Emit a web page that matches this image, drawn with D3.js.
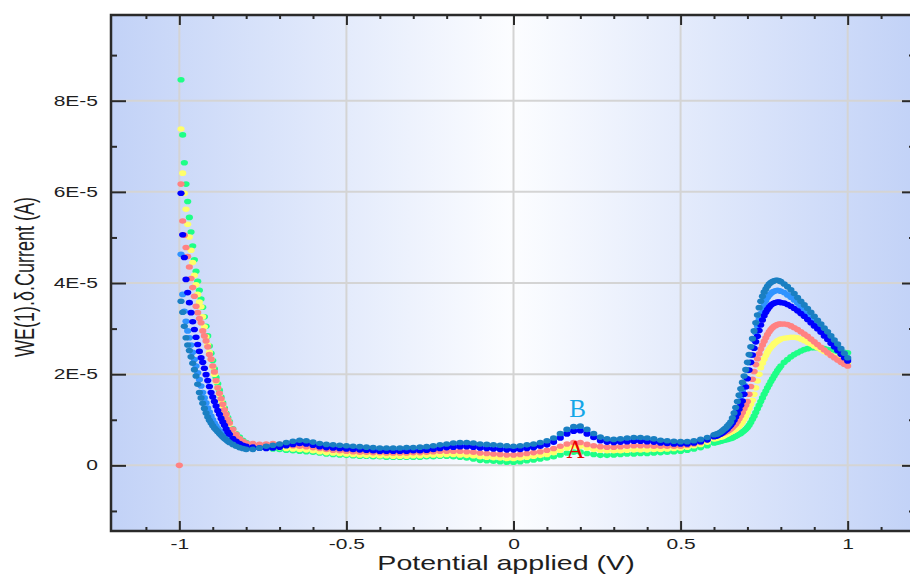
<!DOCTYPE html>
<html>
<head>
<meta charset="utf-8">
<script src="https://cdn.jsdelivr.net/npm/d3@7"></script>
<style>
  body { margin: 0; background: #fff; }
  svg { display: block; font-family: "Liberation Sans", Arial, sans-serif; }
  .tick line { stroke: #2a2a2a; stroke-width: 2; }
  .tick text { fill: #1e1e1e; font-size: 14px; }
</style>
</head>
<body>
<svg width="910" height="576"></svg>
<script>
// potential applied (V) - sampling of the sweep
var potential = [
  -1,
  -0.995, -0.99, -0.985, -0.98, -0.975, -0.97, -0.965, -0.96, -0.955, -0.95,
  -0.945, -0.94, -0.935, -0.93, -0.925, -0.92, -0.915, -0.91, -0.905, -0.9,
  -0.895, -0.89, -0.885, -0.88, -0.875, -0.87, -0.865, -0.86, -0.855, -0.85,
  -0.84, -0.83, -0.82, -0.81, -0.8,
  -0.78, -0.76, -0.74, -0.72, -0.7, -0.68, -0.66, -0.64, -0.62, -0.6,
  -0.58, -0.56, -0.54, -0.52, -0.5, -0.48, -0.46, -0.44, -0.42, -0.4,
  -0.38, -0.36, -0.34, -0.32, -0.3, -0.28, -0.26, -0.24, -0.22, -0.2,
  -0.18, -0.16, -0.14, -0.12, -0.1, -0.08, -0.06, -0.04, -0.02, 0,
  0.02, 0.04, 0.06, 0.08, 0.1, 0.12, 0.14, 0.16, 0.18, 0.2,
  0.22, 0.24, 0.26, 0.28, 0.3, 0.32, 0.34, 0.36, 0.38, 0.4,
  0.42, 0.44, 0.46, 0.48, 0.5, 0.52, 0.54, 0.56, 0.58, 0.6,
  0.605, 0.61, 0.615, 0.62, 0.625, 0.63, 0.635, 0.64, 0.645, 0.65,
  0.655, 0.66, 0.665, 0.67, 0.675, 0.68, 0.685, 0.69, 0.695, 0.7,
  0.705, 0.71, 0.715, 0.72, 0.725, 0.73, 0.735, 0.74, 0.745, 0.75,
  0.755, 0.76, 0.765, 0.77, 0.775, 0.78, 0.785, 0.79, 0.795, 0.8,
  0.81, 0.82, 0.83, 0.84, 0.85, 0.86, 0.87, 0.88, 0.89, 0.9,
  0.91, 0.92, 0.93, 0.94, 0.95, 0.96, 0.97, 0.98, 0.99, 1
];

// currents in microampere, one value per potential (null = no point)
var greenCurrent = [
  null,
  84.6, 72.5, 66.4, 61.7, 57.9, 54.4, 51.2, 48.1, 45.1, 42.6,
  40.4, 38.4, 36.5, 34.7, 32.6, 30.5, 28.4, 26.2, 24.6, 23.0,
  21.2, 19.3, 17.9, 16.5, 15.0, 13.7, 12.6, 11.4, 10.5, 9.6,
  8.0, 6.9, 6.2, 5.5, 5.0,
  4.6, 4.0, 3.8, 3.6, 3.5, 3.3, 3.2, 3.1, 3.0, 2.9,
  2.7, 2.5, 2.4, 2.3, 2.2, 2.1, 2.0, 2.0, 1.9, 1.9,
  1.8, 1.8, 1.8, 1.8, 1.8, 1.8, 1.9, 1.9, 2.0, 2.0,
  1.9, 1.8, 1.6, 1.4, 1.1, 1.0, 0.9, 0.8, 0.7, 0.7,
  0.8, 1.0, 1.2, 1.4, 1.6, 1.9, 2.3, 2.7, 2.9, 2.9,
  2.6, 2.4, 2.2, 2.2, 2.3, 2.4, 2.5, 2.5, 2.6, 2.6,
  2.7, 2.8, 2.9, 3.0, 3.1, 3.3, 3.6, 3.9, 4.3, 4.9,
  5.0, 5.1, 5.2, 5.3, 5.4, 5.5, 5.6, 5.7, 5.8, 5.9,
  6.0, 6.2, 6.4, 6.6, 6.8, 7.0, 7.3, 7.6, 7.9, 8.3,
  8.8, 9.4, 10.1, 10.8, 11.6, 12.4, 13.2, 14.0, 14.8, 15.6,
  16.3, 17.0, 17.7, 18.4, 19.0, 19.6, 20.2, 20.8, 21.3, 21.8,
  22.6, 23.2, 23.8, 24.3, 24.7, 25.1, 25.4, 25.6, 25.8, 25.8,
  25.8, 25.7, 25.6, 25.4, 25.3, 25.2, 25.0, 24.9, 24.8, 24.7
];

var yellowCurrent = [
  null,
  73.8, 64.1, 59.7, 56.2, 52.9, 50.1, 47.2, 44.5, 41.7, 39.6,
  37.5, 35.8, 34.8, 32.6, 30.4, 28.2, 26.4, 24.8, 23.3, 21.6,
  20.0, 18.4, 17.0, 15.6, 14.3, 13.0, 11.9, 10.9, 9.9, 9.1,
  7.6, 6.5, 5.7, 5.1, 4.7,
  4.4, 4.2, 4.1, 4.0, 3.9, 3.7, 3.6, 3.5, 3.4, 3.2,
  3.0, 2.8, 2.7, 2.6, 2.5, 2.4, 2.3, 2.2, 2.2, 2.1,
  2.1, 2.0, 2.0, 2.0, 2.1, 2.1, 2.2, 2.3, 2.3, 2.4,
  2.4, 2.3, 2.2, 2.1, 1.9, 1.8, 1.7, 1.6, 1.5, 1.5,
  1.6, 1.8, 2.0, 2.2, 2.4, 2.8, 3.3, 3.8, 4.2, 4.2,
  3.8, 3.5, 3.3, 3.2, 3.2, 3.2, 3.3, 3.4, 3.4, 3.4,
  3.5, 3.5, 3.6, 3.7, 3.8, 4.0, 4.3, 4.6, 5.1, 5.8,
  5.9, 6.0, 6.1, 6.2, 6.3, 6.5, 6.7, 6.9, 7.1, 7.3,
  7.5, 7.7, 8.0, 8.3, 8.6, 9.0, 9.5, 10.1, 10.8, 11.6,
  12.5, 13.4, 14.3, 15.6, 17.0, 18.5, 20.0, 21.4, 22.4, 23.3,
  24.1, 24.8, 25.4, 25.9, 26.3, 26.7, 27.0, 27.3, 27.5, 27.7,
  27.9, 28.0, 28.1, 28.1, 28.0, 27.7, 27.4, 27.0, 26.6, 26.2,
  25.8, 25.4, 25.0, 24.6, 24.2, 23.8, 23.5, 23.1, 22.8, 22.5
];

var salmonCurrent = [
  0,
  61.7, 53.6, 50.5, 47.8, 45.8, 43.5, 41.0, 39.0, 37.1, 34.9,
  33.5, 32.2, 31.3, 29.5, 28.4, 27.3, 26.0, 24.3, 23.3, 21.8,
  20.5, 18.6, 17.0, 15.8, 14.6, 13.4, 12.2, 11.2, 10.1, 9.3,
  7.9, 6.8, 5.9, 5.3, 4.9,
  4.8, 4.6, 4.7, 4.8, 4.6, 4.4, 4.3, 4.2, 4.1, 3.9,
  3.7, 3.5, 3.3, 3.2, 3.1, 3.0, 2.9, 2.9, 2.8, 2.8,
  2.7, 2.7, 2.7, 2.7, 2.8, 2.8, 2.9, 3.0, 3.1, 3.1,
  3.1, 3.1, 3.0, 2.9, 2.7, 2.6, 2.5, 2.4, 2.3, 2.3,
  2.4, 2.6, 2.8, 3.0, 3.3, 3.7, 4.2, 4.7, 5.0, 5.0,
  4.6, 4.3, 4.1, 4.0, 4.0, 4.1, 4.2, 4.3, 4.3, 4.3,
  4.2, 4.2, 4.2, 4.2, 4.2, 4.4, 4.7, 5.0, 5.6, 6.5,
  6.6, 6.7, 6.8, 6.9, 7.0, 7.1, 7.3, 7.5, 7.7, 8.0,
  8.3, 8.7, 9.1, 9.6, 10.2, 10.9, 11.6, 12.4, 13.2, 14.0,
  15.6, 17.3, 18.9, 20.6, 22.1, 23.4, 24.5, 25.5, 26.4, 27.2,
  28.0, 28.7, 29.3, 29.8, 30.2, 30.5, 30.7, 30.9, 31.0, 31.0,
  31.0, 30.9, 30.6, 30.2, 29.8, 29.3, 28.8, 28.3, 27.7, 27.1,
  26.5, 25.9, 25.3, 24.7, 24.1, 23.6, 23.1, 22.6, 22.2, 21.8
];

var lightBlueCurrent = [
  null,
  46.3, 37.5, 33.8, 31.6, 29.5, 28.0, 26.4, 24.8, 23.2, 21.8,
  20.3, 18.8, 17.4, 16.0, 14.8, 13.7, 12.6, 11.7, 10.8, 10.0,
  9.3, 8.7, 8.1, 7.6, 7.1, 6.7, 6.3, 5.9, 5.6, 5.3,
  4.8, 4.4, 4.1, 3.9, 3.7,
  3.7, 3.8, 4.0, 4.1, 4.4, 4.7, 5.0, 5.2, 5.1, 4.8,
  4.5, 4.3, 4.2, 4.1, 4.0, 3.9, 3.8, 3.7, 3.6, 3.5,
  3.5, 3.5, 3.5, 3.5, 3.6, 3.6, 3.7, 3.9, 4.1, 4.3,
  4.5, 4.6, 4.6, 4.5, 4.3, 4.2, 4.1, 4.0, 3.9, 3.8,
  3.9, 4.1, 4.3, 4.6, 5.0, 5.6, 6.5, 7.4, 8.0, 8.1,
  7.4, 6.6, 5.8, 5.5, 5.4, 5.5, 5.6, 5.7, 5.7, 5.6,
  5.4, 5.2, 5.1, 5.0, 5.0, 5.0, 5.2, 5.5, 5.9, 6.5,
  6.6, 6.7, 6.9, 7.1, 7.4, 7.7, 8.0, 8.3, 8.7, 9.2,
  9.9, 10.7, 11.7, 12.7, 13.9, 15.1, 16.3, 17.7, 19.2, 20.8,
  22.5, 24.2, 25.9, 27.5, 29.1, 30.6, 32.0, 33.3, 34.4, 35.3,
  36.1, 36.8, 37.3, 37.7, 38.0, 38.2, 38.3, 38.4, 38.3, 38.2,
  37.9, 37.4, 36.9, 36.3, 35.6, 34.9, 34.2, 33.4, 32.6, 31.8,
  31.0, 30.2, 29.4, 28.6, 27.8, 26.9, 26.0, 25.1, 24.2, 23.3
];

var tealCurrent = [
  null,
  36.0, 33.6, 30.5, 28.0, 26.4, 25.2, 23.8, 22.4, 21.0, 19.6,
  17.8, 16.0, 14.8, 13.6, 12.5, 11.5, 10.6, 9.9, 9.3, 8.7,
  8.2, 7.8, 7.4, 7.0, 6.6, 6.2, 5.9, 5.6, 5.3, 5.0,
  4.6, 4.2, 3.9, 3.7, 3.5,
  3.5, 3.8, 4.2, 4.4, 4.7, 5.0, 5.3, 5.5, 5.4, 5.1,
  4.8, 4.6, 4.5, 4.4, 4.3, 4.2, 4.1, 4.0, 3.9, 3.8,
  3.8, 3.8, 3.8, 3.9, 3.9, 4.0, 4.1, 4.3, 4.5, 4.7,
  4.9, 5.0, 5.0, 4.9, 4.7, 4.6, 4.5, 4.4, 4.3, 4.2,
  4.3, 4.5, 4.7, 5.0, 5.4, 6.0, 7.0, 7.9, 8.5, 8.6,
  7.9, 7.0, 6.2, 5.8, 5.7, 5.8, 6.0, 6.1, 6.1, 6.0,
  5.8, 5.5, 5.4, 5.3, 5.2, 5.2, 5.4, 5.7, 6.1, 6.7,
  6.8, 6.9, 7.1, 7.3, 7.6, 7.9, 8.2, 8.6, 9.0, 9.5,
  10.4, 11.5, 12.7, 14.0, 15.4, 16.8, 18.2, 19.6, 21.0, 22.6,
  24.3, 26.0, 27.8, 29.5, 31.3, 33.0, 34.6, 36.0, 37.1, 38.0,
  38.7, 39.3, 39.8, 40.1, 40.3, 40.5, 40.6, 40.6, 40.5, 40.3,
  39.8, 39.2, 38.5, 37.7, 36.8, 36.0, 35.2, 34.4, 33.6, 32.7,
  31.8, 31.0, 30.1, 29.3, 28.4, 27.5, 26.6, 25.6, 24.6, 23.6
];

var blueCurrent = [
  null,
  59.7, 50.6, 45.6, 40.8, 37.9, 35.7, 33.5, 31.5, 29.8, 28.1,
  26.5, 25.0, 23.6, 22.6, 21.3, 19.9, 18.6, 17.3, 16.0, 15.0,
  14.0, 13.0, 12.0, 11.2, 10.3, 9.5, 8.8, 8.0, 7.3, 6.8,
  5.9, 5.3, 4.8, 4.4, 4.2,
  4.0, 3.8, 3.7, 3.8, 4.0, 4.3, 4.6, 4.8, 4.7, 4.4,
  4.1, 3.9, 3.8, 3.7, 3.6, 3.5, 3.4, 3.3, 3.2, 3.1,
  3.1, 3.1, 3.1, 3.1, 3.2, 3.2, 3.3, 3.5, 3.7, 3.9,
  4.0, 4.1, 4.1, 4.0, 3.8, 3.7, 3.6, 3.5, 3.4, 3.4,
  3.5, 3.7, 3.9, 4.2, 4.5, 5.1, 6.0, 6.9, 7.5, 7.6,
  6.9, 6.1, 5.4, 5.1, 5.0, 5.1, 5.2, 5.3, 5.3, 5.2,
  5.1, 4.9, 4.8, 4.7, 4.7, 4.7, 4.9, 5.2, 5.6, 6.3,
  6.4, 6.5, 6.7, 6.9, 7.1, 7.4, 7.7, 8.0, 8.4, 8.8,
  9.3, 9.9, 10.6, 11.4, 12.3, 13.2, 14.1, 15.6, 17.2, 19.0,
  20.9, 22.6, 24.2, 25.7, 27.1, 28.3, 29.6, 30.8, 31.9, 32.8,
  33.6, 34.2, 34.7, 35.1, 35.4, 35.6, 35.7, 35.8, 35.8, 35.7,
  35.6, 35.3, 34.9, 34.4, 33.9, 33.3, 32.7, 32.0, 31.3, 30.6,
  29.9, 29.2, 28.4, 27.6, 26.8, 26.0, 25.2, 24.4, 23.6, 22.9
];

// drawing order: first listed is at the back
var series = [
  { name: 'green', color: '#1eff86', values: greenCurrent },
  { name: 'yellow', color: '#ffff6a', values: yellowCurrent },
  { name: 'salmon', color: '#ff8282', values: salmonCurrent },
  { name: 'lightblue', color: '#2f93ff', values: lightBlueCurrent },
  { name: 'blue', color: '#0000ff', values: blueCurrent },
  { name: 'teal', color: '#1a7fc2', values: tealCurrent }
];

var xMajor = [-1, -0.5, 0, 0.5, 1],
    xTickLabels = ['-1', '-0.5', '0', '0.5', '1'],
    xMinor = [-1.1, -0.9, -0.8, -0.7, -0.6, -0.4, -0.3, -0.2, -0.1, 0.1, 0.2, 0.3, 0.4, 0.6, 0.7, 0.8, 0.9, 1.1];
var yMajor = [0, 2e-5, 4e-5, 6e-5, 8e-5],
    yTickLabels = ['0', '2E-5', '4E-5', '6E-5', '8E-5'],
    yMinor = [-1e-5, 1e-5, 3e-5, 5e-5, 7e-5, 9e-5];

var annotations = [
  { label: 'B', v: 0.192, i: 10.7, color: '#14a6e8' },
  { label: 'A', v: 0.186, i: 1.55, color: '#e80000' }
];

(function () {
  'use strict';
  var box = { left: 111, right: 915, top: 15, bottom: 531 },
      stretch = 1.5;

  series.forEach(function (s) {
    if (s.values.length !== potential.length) throw new Error(s.name + ' has ' + s.values.length + ' values');
  });

  var x = d3.scaleLinear().domain([-1.2, 1.2]).range([112.5, 914.5]),
      y = d3.scaleLinear().domain([-14.4e-6, 98.8e-6]).range([box.bottom, box.top]);

  var svg = d3.select('svg');

  var grad = svg.append('defs').append('linearGradient')
      .attr('id', 'bg')
      .attr('x1', 0).attr('x2', 1).attr('y1', 0).attr('y2', 0);
  grad.append('stop').attr('offset', '0%').attr('stop-color', '#c2d2f7');
  grad.append('stop').attr('offset', '50%').attr('stop-color', '#fcfdff');
  grad.append('stop').attr('offset', '100%').attr('stop-color', '#c2d2f7');

  svg.append('rect')
      .attr('x', box.left).attr('y', box.top)
      .attr('width', box.right - box.left).attr('height', box.bottom - box.top)
      .attr('fill', 'url(#bg)');

  // grid
  svg.append('g').selectAll('line')
      .data(xMajor)
      .enter().append('line')
      .attr('x1', function (d) { return x(d); }).attr('x2', function (d) { return x(d); })
      .attr('y1', box.top).attr('y2', box.bottom)
      .attr('stroke', '#d4d4d4').attr('stroke-width', 2);
  svg.append('g').selectAll('line')
      .data(yMajor)
      .enter().append('line')
      .attr('x1', box.left).attr('x2', box.right)
      .attr('y1', function (d) { return y(d); }).attr('y2', function (d) { return y(d); })
      .attr('stroke', '#d4d4d4').attr('stroke-width', 2);

  // dots
  series.forEach(function (s) {
    var pts = [];
    s.values.forEach(function (c, k) {
      if (c !== null) pts.push({ v: potential[k], i: c * 1e-6 });
    });
    svg.append('g')
        .attr('class', 'series-' + s.name)
        .selectAll('ellipse')
        .data(pts)
        .enter().append('ellipse')
        .attr('cx', function (d) { return x(d.v); })
        .attr('cy', function (d) { return y(d.i); })
        .attr('rx', 3.6)
        .attr('ry', 2.8)
        .attr('fill', s.color);
  });

  svg.append('g').selectAll('text')
      .data(annotations)
      .enter().append('text')
      .attr('x', function (d) { return x(d.v); })
      .attr('y', function (d) { return y(d.i * 1e-6); })
      .attr('text-anchor', 'middle')
      .style('font-family', '"Liberation Serif", "Times New Roman", serif')
      .style('font-size', '25px')
      .attr('fill', function (d) { return d.color; })
      .text(function (d) { return d.label; });

  // axes
  function clean(g) { g.select('.domain').remove(); }

  svg.append('g')
      .attr('transform', 'translate(0,' + box.bottom + ')')
      .call(d3.axisBottom(x).tickValues(xMajor).tickSize(-10).tickSizeOuter(0).tickPadding(8)
        .tickFormat(function (d, i) { return xTickLabels[i]; }))
      .call(clean)
      .call(function (g) {
        g.selectAll('text').attr('transform', 'scale(' + stretch + ',1)');
      });
  svg.append('g')
      .attr('transform', 'translate(0,' + box.bottom + ')')
      .call(d3.axisBottom(x).tickValues(xMinor).tickSize(-4).tickSizeOuter(0).tickFormat(''))
      .call(clean);
  svg.append('g')
      .attr('transform', 'translate(0,' + box.top + ')')
      .call(d3.axisTop(x).tickValues(xMajor).tickSize(-10).tickSizeOuter(0).tickFormat(''))
      .call(clean);
  svg.append('g')
      .attr('transform', 'translate(0,' + box.top + ')')
      .call(d3.axisTop(x).tickValues(xMinor).tickSize(-4).tickSizeOuter(0).tickFormat(''))
      .call(clean);

  svg.append('g')
      .attr('transform', 'translate(' + box.left + ',0)')
      .call(d3.axisLeft(y).tickValues(yMajor).tickSize(-15).tickSizeOuter(0)
        .tickFormat(function (d, i) { return yTickLabels[i]; }))
      .call(clean)
      .call(function (g) {
        g.selectAll('text')
            .attr('x', -13 / stretch)
            .attr('transform', 'scale(' + stretch + ',1)');
      });
  svg.append('g')
      .attr('transform', 'translate(' + box.left + ',0)')
      .call(d3.axisLeft(y).tickValues(yMinor).tickSize(-6).tickSizeOuter(0).tickFormat(''))
      .call(clean);
  svg.append('g')
      .attr('transform', 'translate(' + box.right + ',0)')
      .call(d3.axisRight(y).tickValues(yMajor).tickSize(-13).tickSizeOuter(0).tickFormat(''))
      .call(clean);
  svg.append('g')
      .attr('transform', 'translate(' + box.right + ',0)')
      .call(d3.axisRight(y).tickValues(yMinor).tickSize(-6).tickSizeOuter(0).tickFormat(''))
      .call(clean);

  // frame
  var frame = svg.append('g').attr('stroke', '#2a2a2a').attr('stroke-width', 2.5).attr('fill', 'none');
  frame.append('path')
      .attr('d', 'M' + box.right + ',' + box.top + 'H' + box.left + 'V' + box.bottom + 'H' + box.right);

  // titles
  svg.append('text')
      .attr('transform', 'translate(506,570) scale(1.43,1)')
      .attr('text-anchor', 'middle')
      .style('font-size', '20px')
      .attr('fill', '#1e1e1e')
      .text('Potential applied (V)');

  svg.append('text')
      .attr('transform', 'translate(34,277) scale(' + stretch + ',1) rotate(-90)')
      .attr('text-anchor', 'middle')
      .style('font-size', '18px')
      .attr('fill', '#1e1e1e')
      .text('WE(1).\u03b4.Current (A)');
})();
</script>
</body>
</html>
